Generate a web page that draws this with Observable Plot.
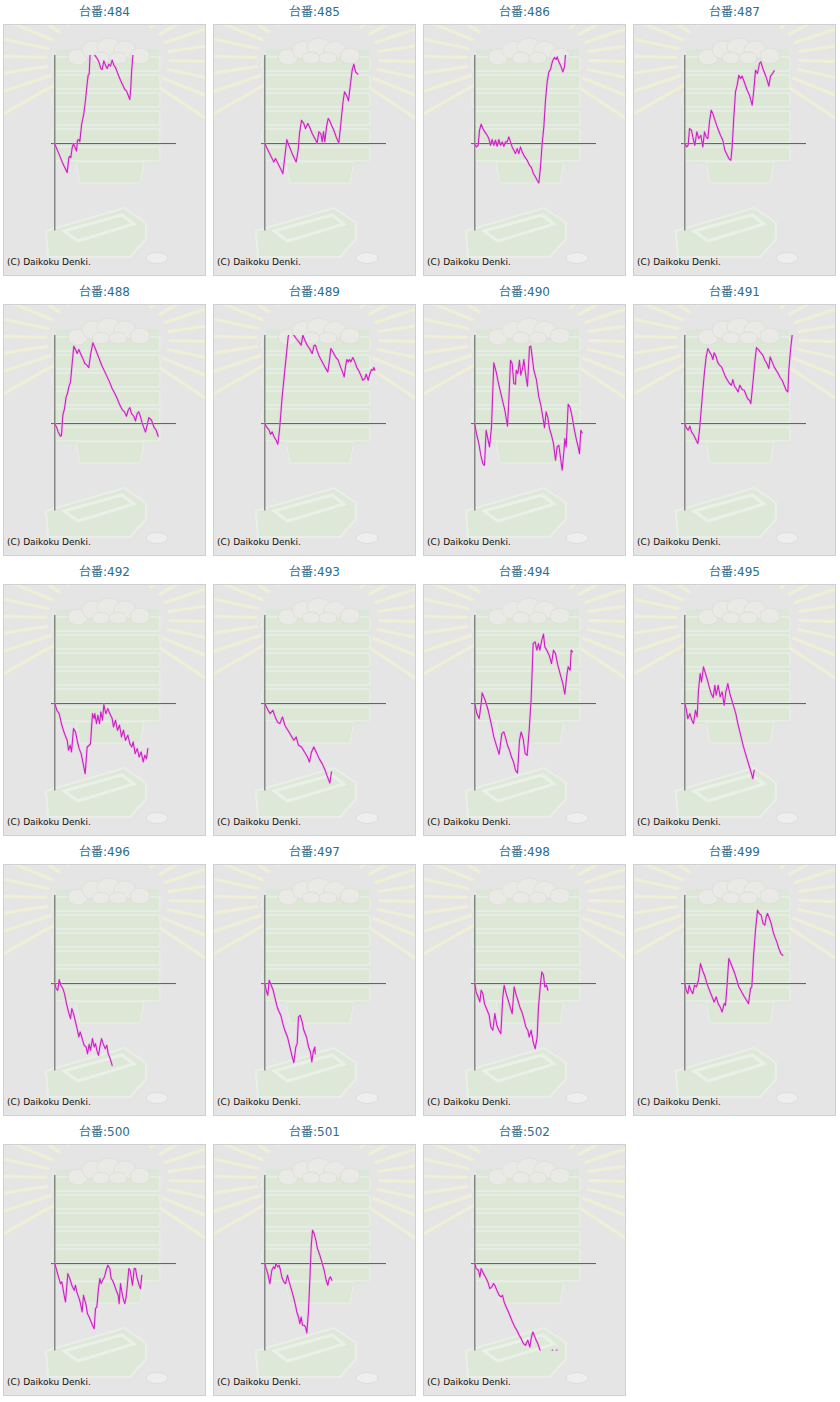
<!DOCTYPE html>
<html><head><meta charset="utf-8">
<script src="https://cdn.jsdelivr.net/npm/d3@7"></script>
<script src="https://cdn.jsdelivr.net/npm/@observablehq/plot@0.6"></script>
<style>
body{margin:0;background:#fff;font-family:"DejaVu Sans",Verdana,"Noto Sans CJK JP",sans-serif;}
#grid{position:relative;width:840px;height:1402px;}
.cell{position:absolute;width:203px;}
.ttl{height:24px;line-height:24px;text-align:center;font-size:12px;color:#2d6e8c;font-family:"DejaVu Sans","Noto Sans CJK JP",sans-serif;}
.box{position:relative;width:201px;height:250px;border:1px solid #d0d0d0;background-color:#e5e5e5;background-repeat:no-repeat;}
.box svg{position:absolute;left:0;top:0;}
.cap{position:absolute;left:3px;top:232px;font-size:9px;color:#111;white-space:nowrap;}
</style>
</head><body>
<div id="grid"></div>
<script>
// machine numbers (台番)
const machines = [484,485,486,487,488,489,490,491,492,493,494,495,496,497,498,499,500,501,502];
const titlePrefix = "台番:";
const caption = "(C) Daikoku Denki.";
// value ranges (games on x, coin difference on y, in chart units)
const xDomain = [-10, 365];
const yDomain = [-262, 264];

// series: [games, difference]
const s484 = [[0,-2],[12,-30],[24,-60],[37,-87],[42,-42],[45,-38],[48,-42],[52,-12],[56,0],[60,-10],[65,-22],[68,10],[72,12],[75,6],[80,55],[87,90],[92,130],[97,180],[100,205],[103,208],[106,270],[112,300],[117,275],[120,265],[127,255],[132,245],[138,225],[142,222],[147,248],[152,235],[157,225],[162,238],[167,232],[172,250],[177,235],[182,228],[187,215],[192,202],[197,190],[204,175],[210,162],[215,158],[220,145],[225,132],[228,170],[230,210],[234,265],[236,285]];
const s485 = [[0,0],[7,-15],[17,-35],[27,-55],[32,-45],[42,-65],[47,-75],[54,-90],[60,-40],[66,12],[72,-5],[82,-30],[94,-55],[100,-20],[104,30],[110,70],[117,60],[122,45],[129,60],[135,48],[142,30],[150,15],[157,2],[162,35],[168,30],[172,5],[176,35],[180,5],[185,50],[190,75],[194,70],[200,55],[207,40],[214,20],[222,2],[228,60],[234,120],[239,155],[245,145],[251,128],[257,180],[262,220],[267,238],[272,215],[279,208]];
const s486 = [[0,-2],[5,-10],[10,-5],[14,40],[19,58],[24,45],[30,35],[37,25],[42,15],[47,-5],[52,12],[57,-5],[62,10],[67,-8],[72,12],[77,-5],[82,5],[87,-8],[92,5],[97,5],[102,20],[107,5],[112,-10],[117,-20],[122,-30],[127,-15],[132,-30],[137,-10],[142,-25],[150,-40],[157,-50],[164,-65],[170,-72],[175,-88],[182,-100],[187,-110],[192,-118],[197,-70],[202,0],[207,50],[212,130],[217,185],[222,215],[227,222],[230,235],[234,250],[239,258],[244,252],[247,260],[252,245],[257,235],[264,215],[269,230],[272,265]];
const s487 = [[0,0],[5,-10],[10,-5],[14,45],[20,40],[25,15],[30,-5],[36,35],[42,15],[48,25],[54,-10],[59,35],[64,20],[69,15],[74,65],[79,100],[84,90],[92,65],[99,45],[107,25],[114,10],[120,-20],[125,-30],[132,-45],[138,-50],[142,-10],[147,80],[152,155],[157,175],[162,205],[167,195],[172,202],[180,180],[187,160],[194,145],[202,115],[207,160],[212,220],[218,210],[224,240],[228,245],[234,225],[242,205],[247,190],[252,172],[257,202],[262,208],[268,218]];
const s488 = [[0,-2],[5,-10],[10,-25],[17,-38],[20,-35],[24,25],[29,45],[34,80],[38,90],[42,110],[47,125],[52,180],[57,232],[62,222],[67,210],[72,222],[78,208],[84,195],[90,180],[96,175],[102,168],[107,205],[114,242],[120,228],[127,210],[134,192],[142,172],[150,155],[157,140],[164,125],[172,105],[180,90],[187,75],[194,58],[202,42],[209,35],[215,22],[220,40],[225,48],[230,30],[237,22],[242,8],[247,30],[252,35],[257,20],[262,2],[268,-15],[272,-25],[277,-5],[282,18],[290,10],[297,-10],[304,-20],[310,-38]];
const s489 = [[0,0],[5,-10],[12,-18],[17,-32],[22,-25],[28,-40],[34,-50],[39,-62],[44,-20],[48,30],[52,80],[58,140],[64,200],[70,260],[74,275],[80,280],[87,265],[94,255],[102,245],[109,235],[114,265],[120,250],[127,235],[134,225],[142,210],[148,235],[152,235],[157,218],[164,200],[172,185],[180,170],[189,155],[194,190],[198,225],[204,215],[212,200],[220,190],[227,170],[233,155],[238,140],[242,170],[246,192],[250,185],[254,192],[258,185],[264,198],[270,185],[276,168],[282,158],[288,145],[294,130],[300,135],[304,148],[310,130],[316,152],[320,162],[324,160],[327,168],[330,160]];
const s490 = [[0,-2],[5,-30],[12,-60],[18,-95],[24,-120],[29,-125],[34,-20],[38,-40],[44,-70],[50,-10],[57,182],[64,155],[70,125],[77,95],[84,65],[90,40],[98,-8],[102,70],[107,190],[112,180],[117,120],[122,118],[124,160],[129,150],[134,190],[138,145],[144,170],[147,192],[152,150],[158,112],[164,230],[168,232],[172,200],[177,160],[185,130],[192,80],[198,55],[204,20],[209,-12],[214,35],[219,18],[224,-15],[230,-35],[236,-60],[242,-110],[247,-70],[252,-65],[256,-95],[262,-140],[267,-85],[270,-45],[274,-70],[280,58],[286,48],[292,20],[298,-15],[304,-45],[310,-70],[314,-90],[318,-20],[322,-28]];
const s491 = [[0,0],[4,-12],[10,-20],[15,-8],[20,-25],[27,-35],[34,-50],[39,-60],[44,-20],[49,40],[54,100],[59,155],[64,200],[69,225],[74,215],[80,205],[84,192],[88,212],[94,200],[98,185],[104,175],[110,170],[116,155],[122,140],[128,130],[134,120],[140,115],[144,132],[149,112],[154,105],[160,95],[165,115],[172,102],[178,100],[182,90],[188,75],[194,70],[198,60],[204,120],[210,185],[215,228],[222,220],[228,212],[234,205],[240,190],[246,180],[252,165],[256,200],[262,185],[268,170],[274,160],[280,150],[286,138],[292,130],[298,115],[304,100],[309,95],[312,160],[317,220],[322,265]];
const s492 = [[0,0],[6,-20],[13,-30],[21,-65],[29,-90],[37,-110],[41,-140],[46,-125],[50,-145],[56,-75],[62,-85],[68,-115],[73,-135],[79,-150],[85,-180],[91,-210],[97,-130],[103,-125],[107,-120],[113,-30],[118,-45],[120,-30],[125,-60],[129,-35],[134,-60],[138,-25],[143,-50],[147,-3],[153,-30],[159,-15],[165,-30],[172,-45],[176,-70],[182,-50],[188,-80],[194,-65],[200,-100],[206,-80],[212,-110],[219,-95],[225,-120],[231,-130],[235,-115],[241,-150],[247,-135],[253,-160],[259,-145],[265,-175],[270,-155],[275,-165],[279,-135]];
const s493 = [[0,0],[7,-15],[16,-30],[24,-20],[31,-40],[38,-55],[45,-60],[53,-40],[60,-65],[69,-80],[78,-95],[87,-110],[94,-100],[101,-125],[110,-130],[119,-145],[128,-160],[134,-175],[140,-145],[147,-130],[154,-145],[163,-165],[172,-180],[181,-200],[190,-225],[195,-238],[200,-205]];
const s494 = [[0,0],[6,-30],[13,-45],[19,0],[22,32],[31,10],[40,-20],[49,-60],[57,-100],[66,-130],[73,-152],[81,-90],[87,-85],[93,-105],[98,-125],[104,-140],[110,-160],[116,-175],[122,-200],[128,-208],[134,-110],[139,-85],[145,-105],[151,-150],[157,-155],[163,-80],[169,15],[175,180],[181,185],[186,160],[191,180],[195,160],[201,190],[206,208],[210,170],[216,160],[223,145],[230,120],[236,160],[242,150],[249,115],[257,85],[264,60],[270,28],[276,85],[280,110],[286,100],[289,160],[293,155]];
const s495 = [[0,0],[4,-15],[9,-45],[15,-30],[21,-50],[26,-60],[32,-20],[37,-40],[41,40],[46,90],[50,65],[56,110],[62,90],[68,70],[73,50],[79,30],[85,18],[90,55],[94,25],[100,55],[106,20],[112,35],[118,-5],[123,35],[129,60],[135,30],[141,10],[147,-10],[153,-30],[159,-60],[164,-80],[170,-105],[176,-130],[182,-150],[188,-170],[194,-190],[200,-210],[204,-225],[208,-200]];
const s496 = [[0,0],[4,-15],[9,-20],[13,12],[18,-5],[24,-15],[29,-30],[35,-60],[41,-85],[47,-105],[51,-75],[56,-90],[62,-115],[68,-140],[72,-160],[76,-145],[82,-165],[88,-185],[94,-190],[98,-210],[103,-182],[107,-200],[113,-165],[118,-190],[122,-180],[126,-200],[131,-215],[135,-190],[140,-165],[145,-180],[151,-195],[156,-185],[160,-210],[166,-225],[172,-245]];
const s497 = [[0,0],[4,-20],[9,-35],[13,10],[19,-5],[25,-20],[31,-45],[37,-70],[43,-85],[48,-95],[54,-120],[60,-140],[68,-160],[75,-190],[81,-215],[87,-237],[93,-190],[97,-180],[101,-100],[106,-95],[112,-115],[117,-140],[125,-160],[131,-190],[137,-205],[141,-235],[145,-205],[150,-190],[151,-210]];
const s498 = [[0,0],[4,-25],[10,-40],[15,-55],[19,-20],[24,-30],[29,-60],[37,-80],[43,-95],[48,-130],[54,-140],[60,-90],[66,-125],[72,-140],[78,-150],[84,-40],[88,-5],[94,-30],[100,-50],[106,-70],[112,-90],[118,-10],[123,-30],[129,-50],[135,-70],[141,-85],[147,-105],[153,-130],[159,-140],[163,-160],[169,-140],[175,-175],[181,-195],[187,-160],[191,-70],[197,0],[201,35],[206,25],[210,-10],[215,-5],[219,-20]];
const s499 = [[0,0],[4,-20],[9,-30],[13,-5],[18,-20],[24,-30],[29,-5],[35,-10],[41,10],[47,60],[53,40],[59,25],[65,5],[70,-10],[76,-25],[82,-40],[88,-55],[94,-40],[100,-60],[106,-70],[112,-85],[118,-60],[122,-65],[126,-15],[132,75],[138,60],[144,45],[150,30],[156,10],[162,-10],[168,-20],[173,-30],[179,-40],[185,-50],[191,-60],[197,-15],[201,-10],[206,80],[212,160],[218,220],[223,210],[229,205],[235,180],[240,175],[244,200],[248,210],[254,195],[259,180],[265,155],[270,140],[276,125],[282,105],[288,90],[294,85]];
const s500 = [[0,0],[4,-15],[11,-40],[17,-60],[21,-55],[28,-95],[32,-115],[39,-30],[45,-45],[51,-65],[58,-80],[62,-65],[66,-85],[73,-105],[77,-120],[82,-145],[86,-95],[90,-110],[94,-125],[98,-150],[103,-160],[107,-170],[113,-185],[118,-195],[122,-135],[126,-130],[131,-75],[135,-45],[139,-60],[143,-50],[149,-40],[154,-20],[159,-5],[165,-15],[169,-45],[173,-50],[179,-65],[184,-80],[190,-95],[193,-120],[197,-60],[201,-85],[205,-105],[210,-120],[214,-100],[217,-70],[222,-15],[226,-20],[229,-40],[233,-65],[238,-15],[242,-15],[246,-40],[253,-65],[257,-75],[261,-35]];
const s501 = [[0,0],[4,-15],[9,-30],[15,-60],[21,-20],[26,-10],[30,-15],[33,0],[39,-10],[43,-5],[47,-20],[51,-40],[57,-55],[62,-60],[68,-35],[73,-55],[79,-75],[86,-100],[92,-125],[96,-145],[101,-160],[105,-180],[109,-160],[113,-185],[118,-185],[122,-190],[126,-208],[131,-140],[135,-50],[139,50],[143,100],[148,90],[153,70],[158,45],[165,25],[171,5],[178,-20],[184,-50],[189,-65],[193,-45],[197,-40],[201,-50]];
const s502 = [[0,0],[4,-15],[11,-20],[15,-40],[19,-15],[26,-30],[32,-40],[39,-55],[45,-75],[51,-70],[56,-60],[60,-65],[66,-80],[73,-95],[79,-100],[83,-95],[88,-115],[94,-130],[101,-145],[107,-160],[113,-175],[120,-190],[126,-200],[133,-215],[139,-225],[146,-240],[152,-245],[159,-230],[165,-250],[169,-225],[174,-205],[178,-215],[182,-225],[189,-240],[195,-258],[205,-275],[225,-272],[233,-259],[238,-270],[246,-259],[252,-272]];
const seriesList = [s484,s485,s486,s487,s488,s489,s490,s491,s492,s493,s494,s495,s496,s497,s498,s499,s500,s501,s502];

// ---- decorative panel background (not data) ----
function decoration(){
  const cx = 104, cy = 34;
  let rays = "";
  for (let a = -38; a <= 218; a += 12) {
    const r = a * Math.PI / 180;
    const x1 = cx + 62*Math.cos(r), y1 = cy - 44*Math.sin(r);
    const x2 = cx + 200*Math.cos(r), y2 = cy - 160*Math.sin(r);
    rays += `<line x1='${x1.toFixed(1)}' y1='${y1.toFixed(1)}' x2='${x2.toFixed(1)}' y2='${y2.toFixed(1)}'/>`;
  }
  let bands = "";
  for (let i = 0; i < 6; i++) {
    const y = 32 + i*18;
    bands += `<rect x='${48+(i%2)*3}' y='${y}' width='${108-(i%2)*3}' height='14' rx='3' fill='#d9e8d2' stroke='#e9f1e5' stroke-width='1.5'/>`;
  }
  const svg = `<svg xmlns='http://www.w3.org/2000/svg' width='201' height='250'>
  <g opacity='0.75'>
  <g stroke='#f3f3d2' stroke-width='3' stroke-linecap='round'>${rays}</g>
  <path d='M52 24 L155 24 L155 137 L138 140 L134 158 L78 158 L72 140 L52 137 Z' fill='#dbe8d5'/>
  ${bands}
  <path d='M72 137 L140 137 L136 158 L76 158 Z' fill='#d9e8d2' stroke='#eaf2e6'/>
  <g fill='#ebebe7' stroke='#dedcd6'>
    <ellipse cx='74' cy='32' rx='10' ry='8'/><ellipse cx='89' cy='25' rx='11' ry='9'/><ellipse cx='105' cy='22' rx='12' ry='9'/>
    <ellipse cx='121' cy='25' rx='11' ry='9'/><ellipse cx='136' cy='31' rx='10' ry='8'/><ellipse cx='97' cy='33' rx='9' ry='6'/><ellipse cx='114' cy='33' rx='9' ry='6'/>
  </g>
  <path d='M42 206 L120 183 L142 198 L142 214 L126 232 L44 232 Z' fill='#dbe9d4' stroke='#ebf3e7' stroke-width='2'/>
  <path d='M60 206 L118 190 L130 199 L74 216 Z' fill='none' stroke='#ecf4e9' stroke-width='3'/>
  <ellipse cx='153' cy='233' rx='11' ry='5.5' fill='#f1f1f1' stroke='#dadada'/>
  </g>
  </svg>`;
  return "url(\"data:image/svg+xml," + encodeURIComponent(svg) + "\")";
}
const bg = decoration();

const grid = document.getElementById("grid");
machines.forEach((m, i) => {
  const col = i % 4, row = Math.floor(i / 4);
  const cell = document.createElement("div");
  cell.className = "cell";
  cell.style.left = (3 + 210*col) + "px";
  cell.style.top = (280*row) + "px";
  const t = document.createElement("div");
  t.className = "ttl";
  t.textContent = titlePrefix + m;
  cell.appendChild(t);
  const box = document.createElement("div");
  box.className = "box";
  box.style.backgroundImage = bg;
  const data = seriesList[i].map(([g, d]) => ({g, d}));
  const chart = Plot.plot({
    width: 201, height: 250,
    marginLeft: 47, marginRight: 29, marginTop: 30, marginBottom: 44.5,
    x: {domain: xDomain, axis: null},
    y: {domain: yDomain, axis: null},
    style: {background: "transparent"},
    marks: [
      Plot.ruleY([0], {x1: xDomain[0], x2: xDomain[1], stroke: "#5a5a5a", strokeWidth: 1}),
      Plot.ruleX([0], {y1: yDomain[0], y2: yDomain[1], stroke: "#5a5a5a", strokeWidth: 1}),
      Plot.line(data, {x: "g", y: "d", stroke: "#f2a6ec", strokeWidth: 2.6, strokeOpacity: 0.45, clip: true}),
      Plot.line(data, {x: "g", y: "d", stroke: "#cc1fc4", strokeWidth: 1.1, clip: true})
    ]
  });
  box.appendChild(chart);
  const c = document.createElement("div");
  c.className = "cap";
  c.textContent = caption;
  box.appendChild(c);
  cell.appendChild(box);
  grid.appendChild(cell);
});
</script>
</body></html>
